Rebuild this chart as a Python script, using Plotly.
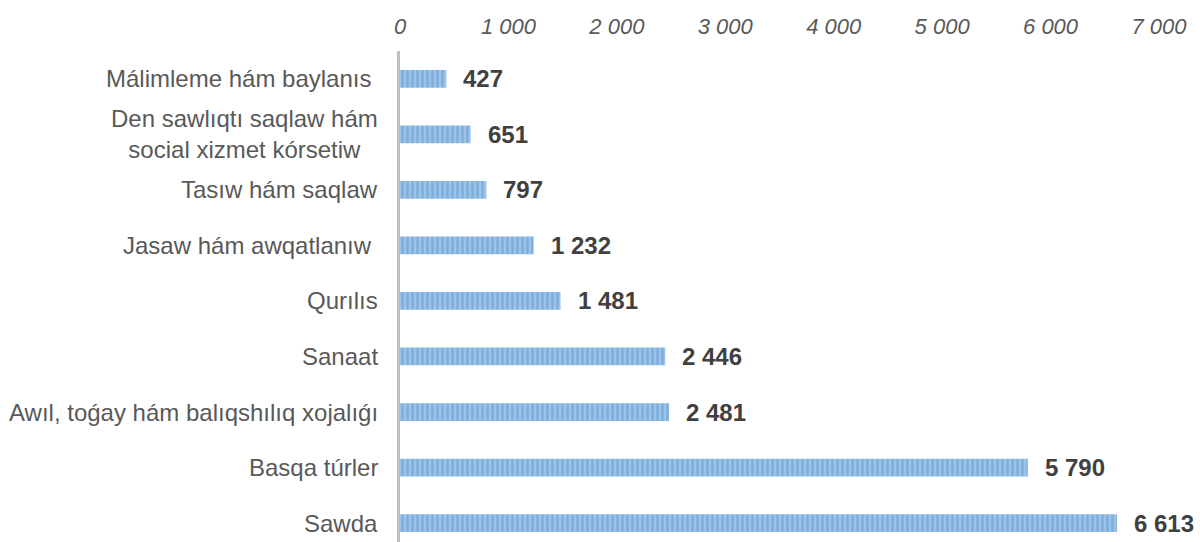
import plotly.graph_objects as go

categories = [
    "Málimleme hám baylanıs\u00a0",
    "Den sawlıqtı saqlaw hám<br>social xizmet kórsetiw",
    "Tasıw hám saqlaw",
    "Jasaw hám awqatlanıw\u00a0",
    "Qurılıs",
    "Sanaat",
    "Awıl, toǵay hám balıqshılıq xojalıǵı",
    "Basqa túrler",
    "Sawda",
]
values = [427, 651, 797, 1232, 1481, 2446, 2481, 5790, 6613]
tick_values = [0, 1000, 2000, 3000, 4000, 5000, 6000, 7000]


def fmt(v):
    return f"{v:,}".replace(",", " ")


fig = go.Figure()
fig.add_trace(go.Bar(
    x=values,
    y=categories,
    orientation="h",
    width=0.32,
    marker=dict(
        color="#9DC3E6",
        line=dict(width=0),
        pattern=dict(shape="|", fgcolor="#5B9BD5", bgcolor="#9DC3E6",
                     size=5, solidity=0.5, fillmode="overlay"),
    ),
    hoverinfo="skip",
))

annotations = []
for c, v in zip(categories, values):
    annotations.append(dict(
        x=v, y=c, xref="x", yref="y", text=fmt(v), showarrow=False,
        xanchor="left", yanchor="middle", xshift=15,
        font=dict(family="Liberation Sans, Arial, sans-serif", size=24,
                  color="#404040", weight="bold"),
    ))
    annotations.append(dict(
        x=0, y=c, xref="paper", yref="y", text=c, showarrow=False,
        xanchor="right", yanchor="middle", xshift=-20, align="center",
        font=dict(family="Liberation Sans, Arial, sans-serif", size=24,
                  color="#595959"),
    ))

fig.update_layout(
    width=1200, height=542,
    margin=dict(l=400, r=41, t=51, b=0),
    paper_bgcolor="white", plot_bgcolor="white",
    separators=". ",
    showlegend=False,
    annotations=annotations,
    xaxis=dict(
        side="top", range=[0, 7000], tickvals=tick_values,
        ticktext=[fmt(t) for t in tick_values],
        showgrid=False, zeroline=False, showline=False, ticks="",
        ticklabelstandoff=12,
        tickfont=dict(family="Liberation Sans, Arial, sans-serif", size=22,
                      color="#595959", style="italic"),
    ),
    yaxis=dict(
        autorange=False, range=[8.34, -0.5],
        showticklabels=False, showgrid=False, zeroline=False,
        showline=True, linecolor="#BFBFBF", linewidth=3, ticks="",
    ),
)

fig.write_html(
    "out.html",
    config={"displayModeBar": False},
    post_script="document.body.style.margin='0';document.body.style.overflow='hidden';",
)
